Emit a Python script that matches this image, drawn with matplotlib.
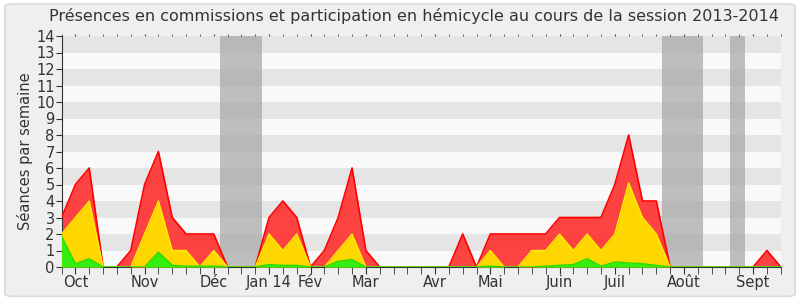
import matplotlib
matplotlib.use("Agg")
import matplotlib.pyplot as plt
import numpy as np
from matplotlib.patches import FancyBboxPatch

plt.rcParams["font.family"] = ["DejaVu Sans"]

# Weekly values (53 weeks, session 2013-2014)
total = [3, 5, 6, 0, 0, 1, 5, 7, 3, 2, 2, 2, 0, 0, 0, 3, 4, 3, 0, 1, 3, 6, 1,
         0, 0, 0, 0, 0, 0, 2, 0, 2, 2, 2, 2, 2, 3, 3, 3, 3, 5, 8, 4, 4,
         0, 0, 0, 0, 0, 0, 0, 1, 0]
yellow = [2, 3, 4, 0, 0, 0, 2, 4, 1, 1, 0, 1, 0, 0, 0, 2, 1, 2, 0, 0, 1, 2, 0,
          0, 0, 0, 0, 0, 0, 0, 0, 1, 0, 0, 1, 1, 2, 1, 2, 1, 2, 5.1, 3, 2,
          0, 0, 0, 0, 0, 0, 0, 0, 0]
green = [1.85, 0.2, 0.5, 0, 0, 0, 0, 0.9, 0.1, 0.05, 0.05, 0.05, 0, 0, 0, 0.15, 0.1, 0.1, 0, 0, 0.35, 0.45, 0,
         0, 0, 0, 0, 0, 0, 0, 0, 0.05, 0, 0, 0, 0.05, 0.1, 0.15, 0.5, 0.05, 0.3, 0.25, 0.2, 0.1,
         0, 0, 0, 0, 0, 0, 0, 0, 0]
month_labels = ["Oct", "Nov", "Déc", "Jan 14", "Fév", "Mar", "Avr", "Mai", "Juin", "Juil", "Août", "Sept"]
month_pos = [1, 6, 11, 15, 18, 22, 27, 31, 36, 40, 45, 50]
vacations = [(11.45, 14.5), (43.4, 46.4), (48.35, 49.4)]

fig = plt.figure(figsize=(8, 3), dpi=100)
fig.patch.set_facecolor("white")
bg = FancyBboxPatch((0.006, 0.012), 0.988, 0.975, boxstyle="round,pad=0,rounding_size=0.01",
                    transform=fig.transFigure, facecolor="#efefef", edgecolor="#dcdcdc", lw=1.2,
                    zorder=-10)
fig.patches.append(bg)

ax = fig.add_axes([0.077, 0.11, 0.899, 0.77])
ax.set_zorder(5)
ax.set_facecolor("#f9f9f9")
n = len(total)
x = np.arange(n)
ax.set_xlim(0, n - 1)
ax.set_ylim(0, 14)

for k in range(1, 14, 2):
    ax.axhspan(k, k + 1, color="#e5e5e5", lw=0, zorder=0)
for a, b in vacations:
    ax.axvspan(a, b, color="#aaaaaa", alpha=0.75, lw=0, zorder=1)

ax.fill_between(x, 0, total, color="#ff3333", alpha=0.92, lw=0, zorder=2)
ax.plot(x, total, color="#ff0000", lw=1.2, zorder=3)
ax.fill_between(x, 0, yellow, color="#ffd700", lw=0, zorder=4)
ax.plot(x, yellow, color="#ffee00", lw=1, zorder=5)
ax.fill_between(x, 0, green, color="#33ee11", lw=0, zorder=6)
ax.plot(x, green, color="#22dd00", lw=1, zorder=7)

for s in ["top", "right"]:
    ax.spines[s].set_visible(False)
ax.spines["left"].set_color("#333333")
ax.spines["bottom"].set_color("#333333")

ax.set_yticks(range(0, 15))
ax.tick_params(axis="y", labelsize=10.5, colors="#333333", length=4, pad=1)
ax.set_xticks(x, minor=True)
ax.set_xticks(month_pos)
ax.set_xticklabels(month_labels)
ax.tick_params(axis="x", which="both", length=5, colors="#333333", labelsize=10.5, pad=1,
               top=True, bottom=True, direction="out")
for t in ax.xaxis.get_major_ticks() + ax.xaxis.get_minor_ticks():
    t.tick2line.set_markersize(1.5)
    t.tick2line.set_markeredgecolor("#444444")
ax.set_ylabel("Séances par semaine", fontsize=10.5, color="#333333", labelpad=2)
fig.suptitle("Présences en commissions et participation en hémicycle au cours de la session 2013-2014",
             fontsize=11.5, color="#333333", y=0.975, x=0.518)

fig.savefig("out.png", dpi=100, facecolor=fig.get_facecolor())
